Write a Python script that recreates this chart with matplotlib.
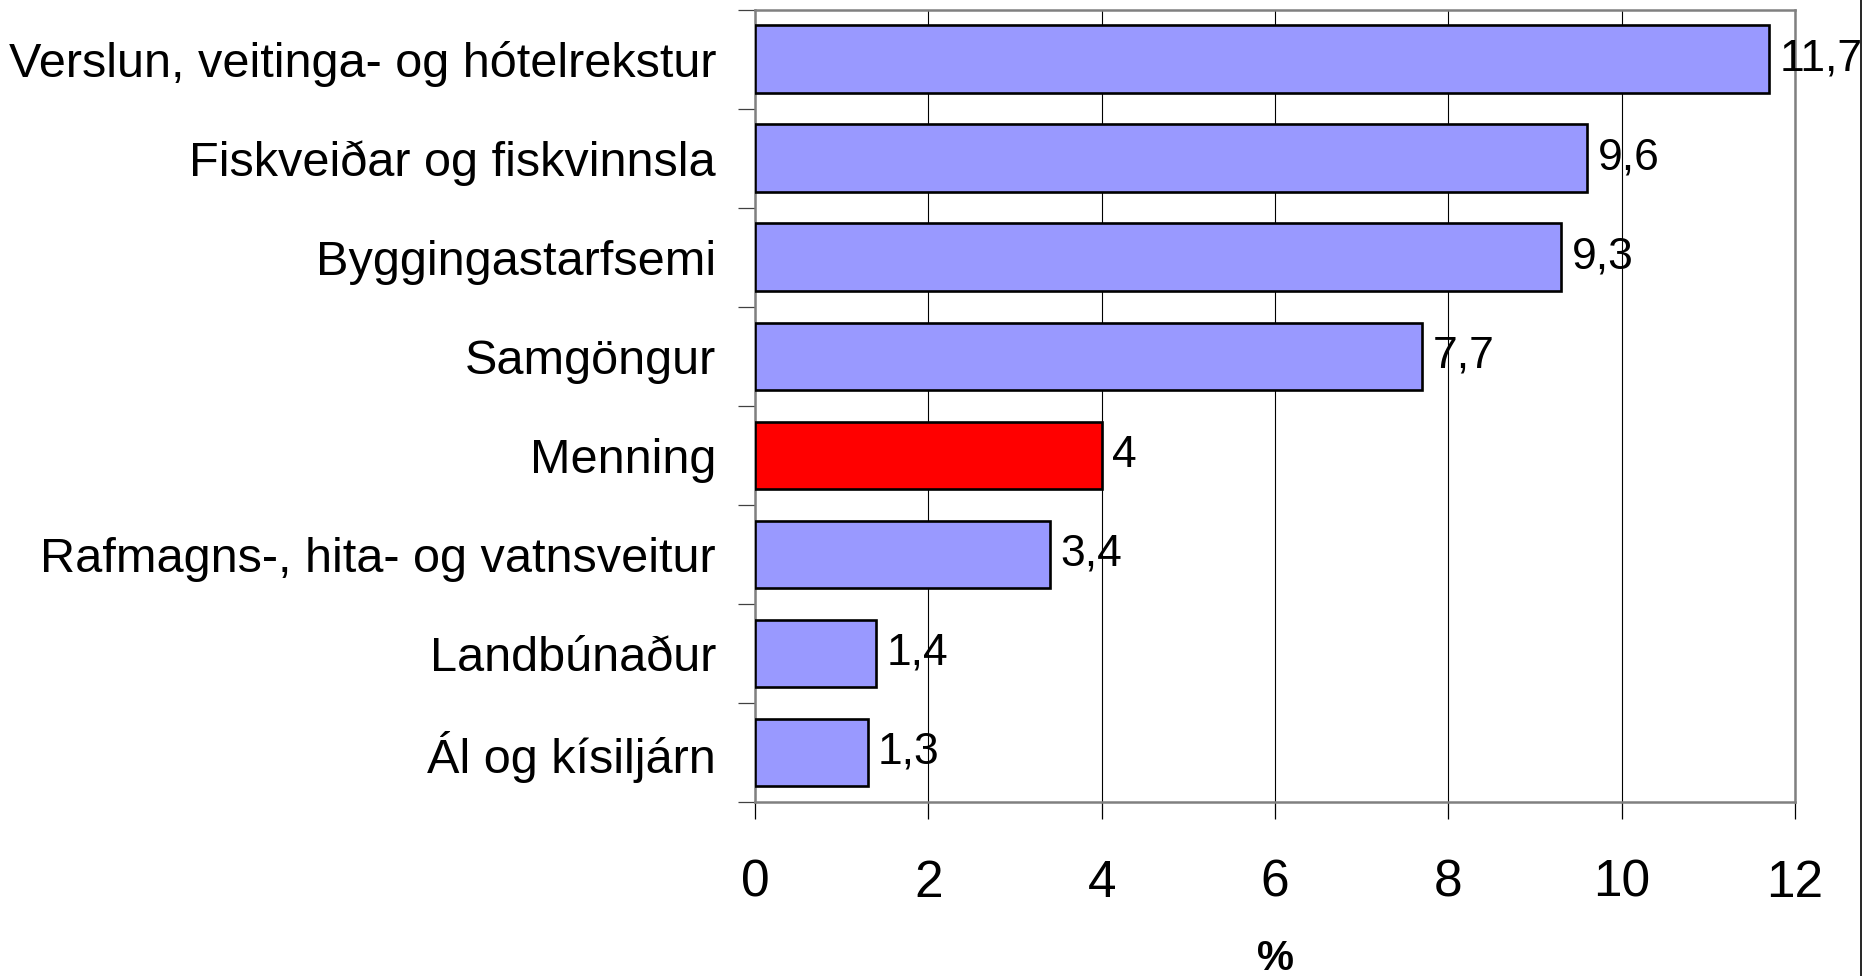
import matplotlib
matplotlib.use("Agg")
import matplotlib.pyplot as plt
import numpy as np
from matplotlib.lines import Line2D

plt.rcParams.update({"font.family": ["Liberation Sans", "DejaVu Sans"]})

categories = [
    "Verslun, veitinga- og hótelrekstur",
    "Fiskveiðar og fiskvinnsla",
    "Byggingastarfsemi",
    "Samgöngur",
    "Menning",
    "Rafmagns-, hita- og vatnsveitur",
    "Landbúnaður",
    "Ál og kísiljárn",
]
values = [11.7, 9.6, 9.3, 7.7, 4, 3.4, 1.4, 1.3]
labels = ["11,7", "9,6", "9,3", "7,7", "4", "3,4", "1,4", "1,3"]
highlight = "Menning"

BLUE, RED, GREY = "#9999FF", "#FF0000", "#808080"

fig = plt.figure(figsize=(18.62, 9.76), dpi=100)
ax = fig.add_axes([755 / 1862, 1 - 802 / 976, 1040 / 1862, 792.5 / 976])

y = np.arange(len(categories))[::-1]
colors = [RED if c == highlight else BLUE for c in categories]
ax.barh(y, values, height=0.68, color=colors, edgecolor="black", linewidth=1.9, zorder=3)

for yi, v, lab in zip(y, values, labels):
    ax.text(v + 0.12, yi, lab, va="center", ha="left", fontsize=32, zorder=4, clip_on=False)

ax.set_xlim(0, 12)
ax.set_ylim(-0.5, len(categories) - 0.5)
ax.set_xticks(np.arange(0, 13, 2))
ax.tick_params(axis="x", labelsize=37, length=12, width=0.9, color="black", pad=29)
ax.xaxis.grid(True, color="black", linewidth=0.8, zorder=1)

# ticks at the category boundaries, labels at the bar centres
ax.set_yticks(np.arange(-0.5, len(categories), 1.0))
ax.set_yticklabels([])
ax.tick_params(axis="y", which="major", length=12, width=0.9, color="#404040")
ax.set_yticks(y, minor=True)
ax.set_yticklabels(categories, minor=True)
ax.tick_params(axis="y", which="minor", length=0, labelsize=35, pad=28)

for s in ax.spines.values():
    s.set_color(GREY)
    s.set_linewidth(1.8)
ax.set_axisbelow(True)

ax.set_xlabel("%", fontsize=30, fontweight="bold", labelpad=22)

fig.add_artist(Line2D([0.9993, 0.9993], [0, 1], color="black", linewidth=1.2,
                      transform=fig.transFigure))

fig.savefig("out.png", dpi=100)
